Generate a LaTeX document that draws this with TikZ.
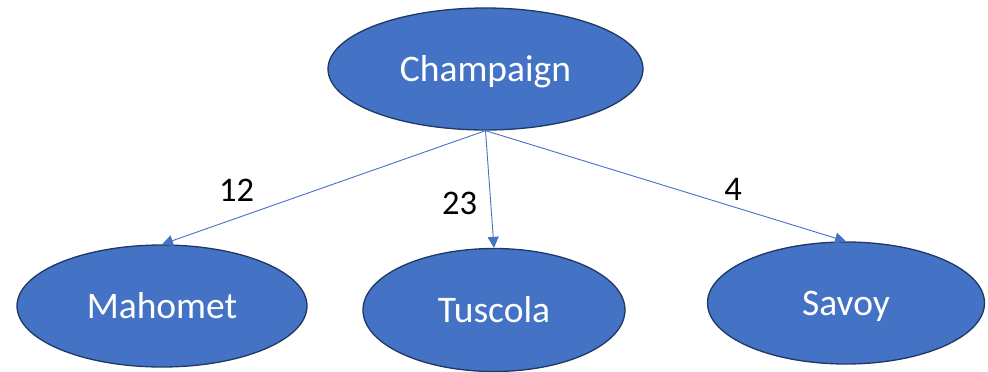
\documentclass[tikz,border=0pt]{standalone}
\usepackage{fontspec}
\setmainfont{Carlito}
\usetikzlibrary{shapes.geometric,arrows.meta}
\definecolor{cityfill}{HTML}{4472C4}
\definecolor{cityline}{HTML}{1F3864}
\definecolor{roadline}{HTML}{4472C4}
\begin{document}
\begin{tikzpicture}[x=1pt,y=-1pt,
  city/.style={ellipse, draw=cityline, line width=1.3pt, fill=cityfill,
    text=white, inner sep=0pt, font=\fontsize{37.5}{40}\selectfont,
    text height=24pt, text depth=0pt},
  road/.style={draw=roadline, line width=0.9pt,
    -{Triangle[length=11pt,width=11pt]}},
  weight/.style={inner sep=0pt, font=\fontsize{34.5}{38}\selectfont}]
  \useasboundingbox (0,0) rectangle (988,372);
  \node[city, minimum width=315pt, minimum height=122pt] (champ) at (485.5,69) {Champaign};
  \node[city, minimum width=290pt, minimum height=122pt] (mah) at (162,306) {Mahomet};
  \node[city, minimum width=262pt, minimum height=123pt] (tus) at (494,310) {Tuscola};
  \node[city, minimum width=277pt, minimum height=122pt] (sav) at (846,303) {Savoy};
  \draw[road] (champ.south) -- (mah.north);
  \draw[road] (champ.south) -- (tus.north);
  \draw[road] (champ.south) -- (sav.north);
  \node[weight] (w12) at (236.5,190) {12};
  \node[weight] (w23) at (459.5,203) {23};
  \node[weight] (w4) at (733,189) {4};
\end{tikzpicture}
\end{document}
